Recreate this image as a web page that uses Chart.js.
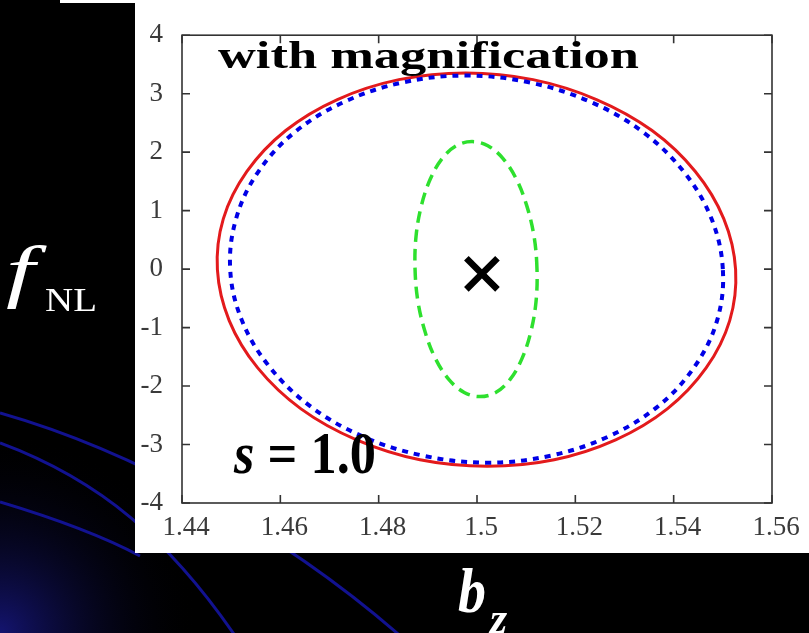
<!DOCTYPE html>
<html>
<head>
<meta charset="utf-8">
<script src="https://cdn.jsdelivr.net/npm/chart.js@4"></script>
<style>
  html,body{margin:0;padding:0;background:#000;}
  #wrap{position:relative;width:809px;height:633px;overflow:hidden;background:#000;}
  #c{position:absolute;left:0;top:0;}
  .t{position:absolute;white-space:nowrap;line-height:1;font-family:"Liberation Serif","Times New Roman",serif;transform-origin:0 0;}
</style>
</head>
<body>
<div id="wrap">
  <canvas id="c" width="809" height="633"></canvas>
  <div class="t" id="title" style="left:218px;top:37px;font-size:37px;font-weight:bold;color:#000;">with magnification</div>
  <div class="t" id="sval" style="left:234px;top:423px;font-size:60px;font-weight:bold;color:#000;"><i>s</i> = 1.0</div>
  <div class="t" id="fl" style="left:6px;top:237px;font-size:69px;font-style:italic;color:#fff;transform:scaleX(1.5);">f</div>
  <div class="t" id="nl" style="left:45px;top:284px;font-size:33px;color:#fff;">NL</div>
  <div class="t" id="bot" style="left:40px;top:626px;font-size:56px;font-weight:bold;color:#fff;">scale-dependent bias and its f</div>
  <div class="t" id="bl" style="left:458px;top:559px;font-size:64px;font-weight:bold;font-style:italic;color:#fff;">b</div>
  <div class="t" id="zl" style="left:490px;top:597px;font-size:44px;font-weight:bold;font-style:italic;color:#fff;">z</div>
</div>
<script>
// ---- data ----
const xTicks = [1.44, 1.46, 1.48, 1.50, 1.52, 1.54, 1.56];
const xTickLabels = ["1.44", "1.46", "1.48", "1.5", "1.52", "1.54", "1.56"];
const yTicks = [-4, -3, -2, -1, 0, 1, 2, 3, 4];
const yTickLabels = ["-4", "-3", "-2", "-1", "0", "1", "2", "3", "4"];

// red solid contour (closed curve)
const redBz = [1.5526,1.5502,1.5444,1.5356,1.5243,1.5114,1.4977,1.4841,1.4716,1.4611,1.4532,1.4484,1.4472,1.4496,1.4554,1.4642,1.4755,1.4884,1.5021,1.5157,1.5282,1.5387,1.5466,1.5514];
const redF  = [-0.01,0.86,1.67,2.37,2.90,3.24,3.355,3.24,2.90,2.37,1.67,0.86,-0.01,-0.88,-1.69,-2.39,-2.92,-3.26,-3.37,-3.26,-2.92,-2.39,-1.69,-0.88];
// blue dotted contour (closed curve)
const blueBz = [1.5500,1.5477,1.5422,1.5338,1.5231,1.5108,1.4977,1.4848,1.4730,1.4629,1.4554,1.4510,1.4498,1.4521,1.4576,1.4660,1.4767,1.4890,1.5021,1.5150,1.5268,1.5369,1.5444,1.5489];
const blueF  = [0,0.86,1.65,2.34,2.86,3.19,3.31,3.19,2.86,2.34,1.65,0.86,0,-0.86,-1.65,-2.34,-2.86,-3.19,-3.31,-3.19,-2.86,-2.34,-1.65,-0.86];
// green dashed contour (closed curve)
const greenBz = [1.5122,1.5116,1.5101,1.5080,1.5053,1.5022,1.4990,1.4958,1.4929,1.4905,1.4887,1.4876,1.4874,1.4880,1.4895,1.4916,1.4943,1.4974,1.5006,1.5038,1.5067,1.5091,1.5109,1.5120];
const greenF  = [0,0.56,1.09,1.54,1.89,2.11,2.18,2.11,1.89,1.54,1.09,0.56,0,-0.56,-1.09,-1.54,-1.89,-2.11,-2.18,-2.11,-1.89,-1.54,-1.09,-0.56];
// fiducial point
const markBz = [1.501];
const markF  = [-0.08];

const pts = (xs, ys) => xs.map((x, i) => ({x: x, y: ys[i]}));

// ---- background (slide decoration) ----
const bgPlugin = {
  id: 'bg',
  beforeDraw(chart) {
    const ctx = chart.ctx;
    ctx.save();
    ctx.fillStyle = '#000';
    ctx.fillRect(0, 0, 809, 633);
    const g = ctx.createRadialGradient(0, 633, 0, 0, 633, 200);
    g.addColorStop(0, '#141470');
    g.addColorStop(1, 'rgba(0,0,0,0)');
    ctx.fillStyle = g;
    ctx.fillRect(0, 400, 300, 233);
    ctx.strokeStyle = '#121290';
    ctx.lineWidth = 3;
    ctx.beginPath();
    ctx.moveTo(0, 413); ctx.bezierCurveTo(130, 450, 280, 530, 405, 640);
    ctx.moveTo(0, 443); ctx.bezierCurveTo(100, 480, 170, 540, 238, 640);
    ctx.moveTo(0, 502); ctx.bezierCurveTo(60, 520, 110, 540, 140, 556);
    ctx.stroke();
    ctx.fillStyle = '#fff';
    ctx.fillRect(135, 0, 674, 553);
    ctx.fillRect(60, 0, 75, 3);
    ctx.restore();
  }
};

// ---- close the contour lines smoothly ----
const loopPlugin = {
  id: 'loop',
  afterDatasetUpdate(chart, args) {
    const ds = chart.data.datasets[args.index];
    const line = args.meta && args.meta.dataset;
    if (ds.closed && line) {
      line._loop = true;
      line._fullLoop = true;
      line._pointsUpdated = false;
      delete line._segments;
      delete line._path;
    }
  }
};

// ---- frame and inward ticks ----
const framePlugin = {
  id: 'frame',
  afterDraw(chart) {
    const {ctx, chartArea: a, scales} = chart;
    ctx.save();
    ctx.strokeStyle = '#333';
    ctx.lineWidth = 1.6;
    ctx.strokeRect(a.left, a.top, a.right - a.left, a.bottom - a.top);
    ctx.beginPath();
    const L = 8;
    xTicks.forEach(v => {
      const px = scales.x.getPixelForValue(v);
      ctx.moveTo(px, a.bottom); ctx.lineTo(px, a.bottom - L);
      ctx.moveTo(px, a.top); ctx.lineTo(px, a.top + L);
    });
    yTicks.forEach(v => {
      const py = scales.y.getPixelForValue(v);
      ctx.moveTo(a.left, py); ctx.lineTo(a.left + L, py);
      ctx.moveTo(a.right, py); ctx.lineTo(a.right - L, py);
    });
    ctx.stroke();
    ctx.restore();
  }
};

const tickFont = {family: '"Liberation Serif", serif', size: 27};

new Chart(document.getElementById('c'), {
  type: 'scatter',
  data: {
    datasets: [
      {type: 'line', closed: true, data: pts(blueBz, blueF), borderColor: '#0000e6', borderWidth: 4, borderDash: [6, 6], pointRadius: 0, tension: 0.36, fill: false},
      {type: 'line', closed: true, data: pts(redBz, redF), borderColor: '#e31a1c', borderWidth: 3, pointRadius: 0, tension: 0.36, fill: false},
      {type: 'line', closed: true, data: pts(greenBz, greenF), borderColor: '#2ee02e', borderWidth: 3.5, borderDash: [12, 7], pointRadius: 0, tension: 0.36, fill: false},
      {type: 'scatter', data: pts(markBz, markF), showLine: false, pointStyle: 'crossRot', pointRadius: 22, pointBorderWidth: 6.5, pointBorderColor: '#000', borderColor: '#000', backgroundColor: '#000'}
    ]
  },
  options: {
    responsive: false,
    animation: false,
    devicePixelRatio: 1,
    layout: {padding: {left: 135, top: 32, right: 37, bottom: 80}},
    plugins: {legend: {display: false}, tooltip: {enabled: false}},
    scales: {
      x: {
        type: 'linear', min: 1.44, max: 1.56,
        afterBuildTicks: s => { s.ticks = xTicks.map(v => ({value: v})); },
        afterFit: s => { s.height = 50; },
        grid: {display: false, drawTicks: false},
        border: {display: false},
        ticks: {font: tickFont, color: '#3a3a3a', padding: 9, labelOffset: 4, maxRotation: 0, autoSkip: false,
                callback: (v, i) => xTickLabels[i]}
      },
      y: {
        type: 'linear', min: -4, max: 4,
        afterBuildTicks: s => { s.ticks = yTicks.map(v => ({value: v})); },
        afterFit: s => { s.width = 47; },
        grid: {display: false, drawTicks: false},
        border: {display: false},
        ticks: {font: tickFont, color: '#3a3a3a', padding: 19, autoSkip: false,
                callback: (v, i) => yTickLabels[i]}
      }
    }
  },
  plugins: [bgPlugin, loopPlugin, framePlugin]
});

// stretch overlay texts to the widths seen in the reference
function fit(id, w) {
  const el = document.getElementById(id);
  const cw = el.getBoundingClientRect().width;
  if (cw > 0) el.style.transform = 'scaleX(' + (w / cw) + ')';
}
fit('title', 421);
fit('sval', 142);
fit('nl', 52);
fit('bl', 28);
</script>
</body>
</html>
